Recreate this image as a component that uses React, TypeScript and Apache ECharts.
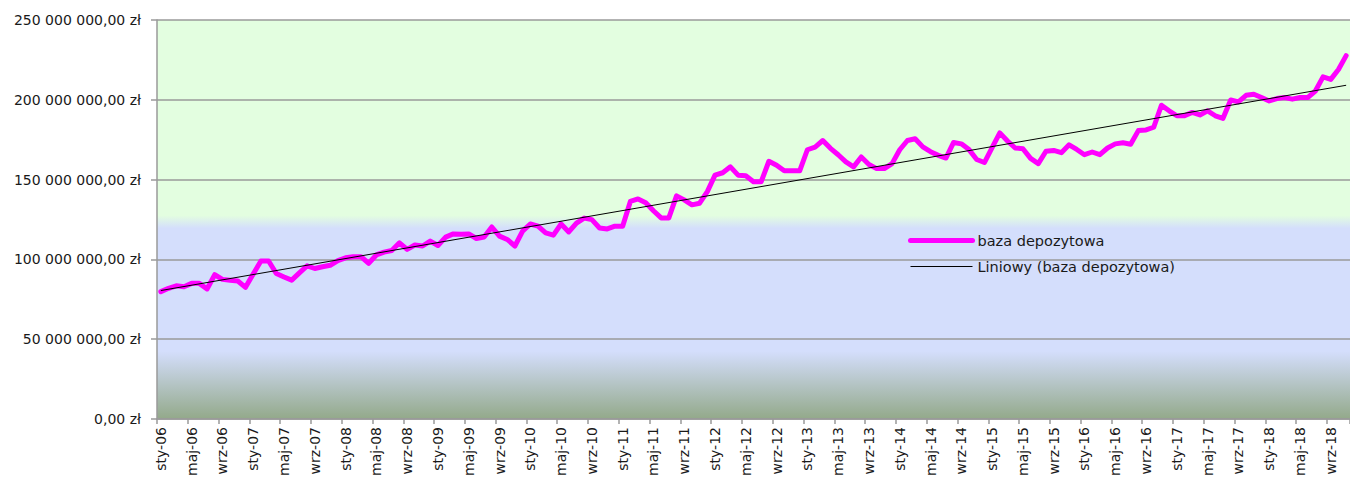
import React, { useEffect, useRef } from "react";
import * as echarts from "echarts";

const monthNames = ["sty", "lut", "mar", "kwi", "maj", "cze", "lip", "sie", "wrz", "paź", "lis", "gru"];
const startYear = 2006;
const monthCount = 155;
const categories: string[] = [];
for (let i = 0; i < monthCount; i++) {
  const y = startYear + Math.floor(i / 12);
  categories.push(`${monthNames[i % 12]}-${String(y % 100).padStart(2, "0")}`);
}

// baza depozytowa, in millions zł
const depositMillions = [
  79.8, 81.9, 83.5, 82.9, 85, 85, 81.5, 90.4, 87.5, 87, 86.5, 82.5,
  90.8, 99, 99, 91.2, 89, 87, 91.6, 96, 94.3, 95.4, 96.3, 99.3,
  101, 101.7, 101.7, 97.6, 102.8, 104.6, 105.6, 110.4, 106.3, 109, 108.4, 111.5,
  108.7, 114, 116, 115.8, 116, 113.1, 114, 120.3, 114.6, 112.5, 108.4, 117.7,
  122.2, 120.8, 116.6, 115.2, 122.2, 117.2, 122.8, 125.9, 124.9, 119.7, 119.1, 120.8,
  120.8, 136.3, 137.9, 135.5, 130.5, 126, 126, 139.8, 137.3, 134.2, 135.2, 142.5,
  152.8, 154.3, 158, 152.8, 152.4, 148.7, 148.7, 161.5, 159, 155.5, 155.5, 155.5,
  168.7, 170.4, 174.5, 169.6, 165.6, 161.1, 158, 164.2, 159.5, 156.9, 156.9, 160,
  168.7, 174.5, 175.6, 170.5, 167.5, 165.2, 163.5, 173.3, 172.4, 168.8, 162.6, 160.7,
  170, 179.3, 174.2, 169.8, 169.3, 163.3, 160, 167.8, 168.3, 166.9, 171.8, 168.9,
  165.6, 167.3, 165.6, 169.8, 172.4, 173.1, 172.2, 180.7, 181.1, 182.8, 196.6, 193.1,
  190, 190, 192.1, 190.5, 193.1, 190, 188.4, 199.9, 198.7, 202.8, 203.5, 201.4,
  199.3, 200.8, 201.4, 200.4, 201.4, 201.4, 205.5, 214.4, 212.8, 219, 227.7,
];

// linear trend end points (millions zł)
const trendStartMillions = 80.5;
const trendEndMillions = 209.1;

const yTicks = { min: 0, max: 250000000, interval: 50000000 };

const seriesName = "baza depozytowa";
const trendName = "Liniowy (baza depozytowa)";

function formatZl(v: number): string {
  const s = Math.round(v).toString().replace(/\B(?=(\d{3})+(?!\d))/g, " ");
  return `${s},00 zł`;
}

export default function App() {
  const ref = useRef<HTMLDivElement>(null);
  useEffect(() => {
    if (!ref.current) return;
    const chart = echarts.init(ref.current, undefined, { renderer: "svg" });
    const values = depositMillions.map((v) => v * 1e6);
    const trend = categories.map((_, i) =>
      i === 0 ? trendStartMillions * 1e6 : i === categories.length - 1 ? trendEndMillions * 1e6 : null
    );
    const font = "DejaVu Sans";
    const hiddenSymbol = { color: "rgba(0,0,0,0)", borderColor: "rgba(0,0,0,0)", borderWidth: 0, opacity: 0 };
    chart.setOption({
      animation: false,
      backgroundColor: "#ffffff",
      textStyle: { fontFamily: font },
      grid: {
        left: 157,
        top: 20,
        width: 1195,
        height: 403,
        show: true,
        borderWidth: 0,
        backgroundColor: new echarts.graphic.LinearGradient(0, 0, 0, 1, [
          { offset: 0, color: "#E3FEE0" },
          { offset: 0.49, color: "#E3FEE0" },
          { offset: 0.522, color: "#D4DEFC" },
          { offset: 0.83, color: "#D4DEFC" },
          { offset: 1, color: "#93A98A" },
        ]),
      },
      legend: {
        orient: "vertical",
        left: 908,
        top: 233,
        padding: 0,
        itemWidth: 62,
        itemHeight: 14,
        itemGap: 11,
        itemStyle: hiddenSymbol,
        textStyle: { fontFamily: font, fontSize: 14.5, color: "#1a1a1a" },
        data: [
          { name: seriesName, itemStyle: hiddenSymbol, lineStyle: { width: 5, color: "#FF00FF", cap: "round" } },
          { name: trendName, itemStyle: hiddenSymbol, lineStyle: { width: 1, color: "#000000" } },
        ],
      },
      xAxis: {
        type: "category",
        data: categories,
        boundaryGap: true,
        axisLine: { show: true, lineStyle: { color: "#9a9a9a", width: 1.5 } },
        axisTick: { show: true, interval: 3, length: 5, lineStyle: { color: "#9a9a9a", width: 1.5 } },
        axisLabel: {
          interval: 3,
          rotate: 90,
          margin: 8,
          fontSize: 14,
          fontFamily: font,
          color: "#1a1a1a",
        },
        splitLine: { show: false },
      },
      yAxis: {
        type: "value",
        min: yTicks.min,
        max: yTicks.max,
        interval: yTicks.interval,
        axisLine: { show: true, lineStyle: { color: "#9a9a9a", width: 1.5 } },
        axisTick: { show: true, length: 6, lineStyle: { color: "#9a9a9a", width: 1.5 } },
        axisLabel: {
          margin: 16,
          fontSize: 14,
          fontFamily: font,
          color: "#1a1a1a",
          formatter: (v: number) => formatZl(v),
        },
        splitLine: { show: true, lineStyle: { color: "#9a9a9a", width: 1.5 } },
      },
      series: [
        {
          name: seriesName,
          type: "line",
          data: values,
          symbol: "none",
          smooth: false,
          color: "#FF00FF",
          lineStyle: { color: "#FF00FF", width: 5, cap: "round", join: "round" },
          z: 2,
        },
        {
          name: trendName,
          type: "line",
          data: trend,
          connectNulls: true,
          symbol: "none",
          color: "#000000",
          lineStyle: { color: "#000000", width: 1 },
          z: 3,
        },
      ],
    });
    return () => chart.dispose();
  }, []);
  return (
    <div
      ref={ref}
      style={{ position: "fixed", left: 0, top: 0, width: 1350, height: 479 }}
    />
  );
}
